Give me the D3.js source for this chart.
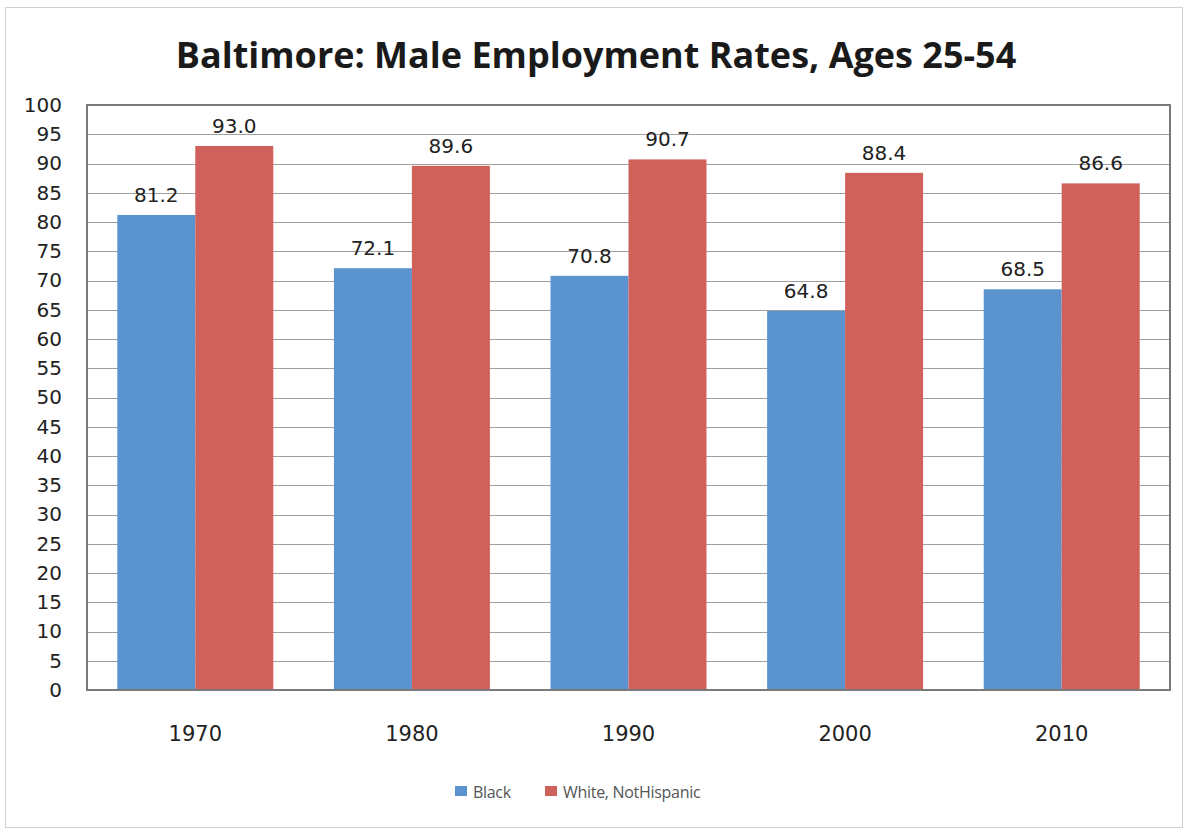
<!DOCTYPE html>
<html><head><meta charset="utf-8">
<script src="https://cdn.jsdelivr.net/npm/d3@7"></script>
<style>body{margin:0;background:#fff;}svg{display:block;}</style>
</head><body>
<script>
const years = ["1970","1980","1990","2000","2010"];
const seriesNames = ["Black","White, Not Hispanic"];
const legendLabels = ["Black","White, NotHispanic"];
const black = [81.2,72.1,70.8,64.8,68.5];
const white = [93.0,89.6,90.7,88.4,86.6];
const yTicks = d3.range(0,101,5);
const colors = ["#5b93cf","#d0605a"];

const W=1184,H=829;
const FONT="DejaVu Sans, sans-serif";
const svg=d3.select("body").append("svg").attr("width",W).attr("height",H);
svg.append("rect").attr("x",5.5).attr("y",7.5).attr("width",1177).attr("height",820).attr("fill","#fff").attr("stroke","#d0d0d0");
const m={l:87,r:1170,t:105,b:690};
const x0=d3.scaleBand().domain(years).range([m.l,m.r]).paddingInner(0.28).paddingOuter(0.14);
const x1=d3.scaleBand().domain([0,1]).range([0,x0.bandwidth()]);
const y=d3.scaleLinear().domain([0,100]).range([m.b,m.t]);

svg.append("text").attr("x",596).attr("y",68).attr("text-anchor","middle")
 .attr("font-family","Open Sans, sans-serif").attr("font-weight","bold").attr("font-size",36).attr("fill","#1a1a1a")
 .text("Baltimore: Male Employment Rates, Ages 25-54");

// grid
const g=svg.append("g");
g.selectAll("line.grid").data(yTicks).join("line")
 .attr("x1",m.l).attr("x2",m.r).attr("y1",d=>Math.round(y(d))+0.5).attr("y2",d=>Math.round(y(d))+0.5)
 .attr("stroke","#a0a0a0").attr("stroke-width",1);
const yAxis=svg.append("g").attr("transform",`translate(${m.l},0)`)
 .call(d3.axisLeft(y).tickValues(yTicks).tickSize(0).tickPadding(25));
yAxis.select(".domain").remove();
yAxis.selectAll("text").attr("font-family",FONT).attr("font-size",20).attr("fill","#222");

const data=years.map((yr,i)=>({yr,vals:[black[i],white[i]]}));
const grp=svg.append("g").selectAll("g").data(data).join("g").attr("transform",d=>`translate(${x0(d.yr)},0)`);
grp.selectAll("rect").data(d=>d.vals.map((v,k)=>({v,k}))).join("rect")
 .attr("x",d=>x1(d.k)).attr("width",x1.bandwidth()).attr("y",d=>y(d.v)).attr("height",d=>y(0)-y(d.v))
 .attr("fill",d=>colors[d.k]);
grp.selectAll("text").data(d=>d.vals.map((v,k)=>({v,k}))).join("text")
 .attr("x",d=>x1(d.k)+x1.bandwidth()/2).attr("y",d=>y(d.v)-13).attr("text-anchor","middle")
 .attr("font-family",FONT).attr("font-size",20).attr("fill","#222")
 .text(d=>d.v.toFixed(1));

// plot border
svg.append("rect").attr("x",m.l).attr("y",m.t).attr("width",m.r-m.l).attr("height",m.b-m.t)
 .attr("fill","none").attr("stroke","#7a7a7a").attr("stroke-width",2);

const xAxis=svg.append("g").attr("transform",`translate(0,${m.b})`).call(d3.axisBottom(x0).tickSize(0).tickPadding(36));
xAxis.select(".domain").remove();
xAxis.selectAll("text").attr("font-family",FONT).attr("font-size",21).attr("fill","#222");

// legend
const lg=svg.append("g");
const lx=[455,545];
legendLabels.forEach((t,i)=>{
  lg.append("rect").attr("x",lx[i]).attr("y",786).attr("width",12).attr("height",10).attr("fill",colors[i]);
  lg.append("text").attr("x",lx[i]+18).attr("y",798).attr("font-family","Open Sans, sans-serif").attr("font-size",16).attr("fill","#555").attr("letter-spacing",-0.3).text(t);
});
</script>
</body></html>
